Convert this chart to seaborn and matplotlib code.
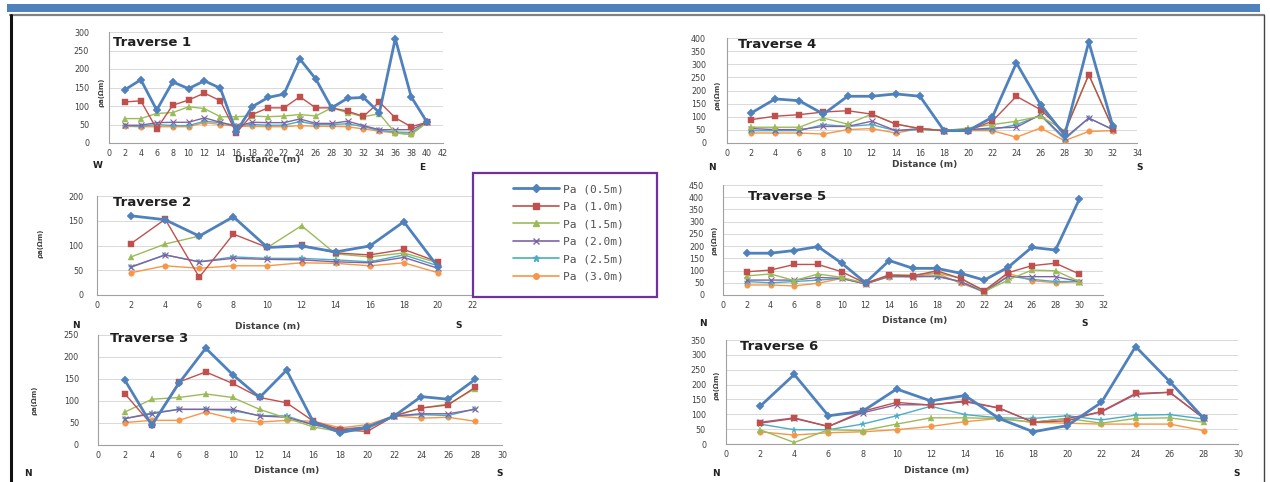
import numpy as np
import pandas as pd
import matplotlib
matplotlib.use("Agg")
import matplotlib.pyplot as plt
from matplotlib.lines import Line2D
from matplotlib.patches import Rectangle
import seaborn as sns

sns.set_theme(style="white")
plt.rcParams['font.family'] = ['DejaVu Sans']

depths = ["Pa (0.5m)", "Pa (1.0m)", "Pa (1.5m)", "Pa (2.0m)", "Pa (2.5m)", "Pa (3.0m)"]
colors = ["#4F81BD", "#C0504D", "#9BBB59", "#8064A2", "#4BACC6", "#F79646"]
markers = ["D", "s", "^", "x", "*", "o"]

# ---------------- Traverse 1 ----------------
t1_x = list(range(2, 41, 2))
t1_05 = [144, 171, 89, 165, 147, 168, 148, 30, 98, 123, 132, 227, 173, 95, 121, 123, 82, 282, 125, 56]
t1_10 = [111, 114, 38, 102, 116, 135, 114, 27, 77, 95, 95, 125, 95, 95, 86, 72, 111, 68, 44, 56]
t1_15 = [66, 66, 80, 82, 98, 93, 71, 71, 73, 71, 73, 77, 73, 95, 82, 71, 79, 27, 23, 56]
t1_20 = [48, 48, 55, 56, 56, 68, 56, 45, 56, 55, 55, 65, 53, 53, 59, 47, 36, 36, 36, 56]
t1_25 = [47, 45, 50, 47, 47, 59, 55, 47, 50, 48, 48, 58, 50, 50, 52, 44, 34, 30, 28, 56]
t1_30 = [45, 44, 44, 44, 44, 55, 50, 45, 45, 44, 44, 47, 45, 45, 44, 38, 32, 27, 23, 56]

# ---------------- Traverse 2 ----------------
t2_x = list(range(2, 21, 2))
t2_05 = [160, 152, 119, 158, 96, 99, 87, 99, 148, 57]
t2_10 = [104, 153, 36, 123, 96, 101, 85, 81, 92, 67]
t2_15 = [77, 103, 119, 158, 96, 140, 83, 77, 85, 65]
t2_20 = [57, 81, 67, 74, 72, 71, 67, 65, 76, 54]
t2_25 = [56, 81, 67, 77, 74, 74, 71, 67, 81, 59]
t2_30 = [45, 59, 54, 59, 59, 65, 64, 59, 65, 45]

# ---------------- Traverse 3 ----------------
t3_x = list(range(2, 29, 2))
t3_05 = [147, 45, 140, 220, 160, 108, 170, 52, 28, 40, 66, 110, 104, 149]
t3_10 = [116, 46, 143, 166, 140, 108, 96, 54, 34, 31, 66, 84, 91, 131]
t3_15 = [75, 104, 108, 116, 108, 81, 61, 41, 30, 37, 67, 84, 93, 128]
t3_20 = [60, 71, 81, 81, 81, 66, 63, 46, 34, 41, 66, 71, 71, 81]
t3_25 = [60, 73, 81, 81, 78, 67, 66, 46, 36, 41, 66, 69, 67, 82]
t3_30 = [51, 56, 56, 75, 60, 52, 56, 54, 39, 46, 66, 61, 63, 54]

# ---------------- Traverse 4 ----------------
t4_x = list(range(2, 33, 2))
t4_05 = [114, 168, 161, 110, 178, 178, 187, 178, 47, 47, 98, 305, 146, 30, 385, 63]
t4_10 = [89, 102, 108, 118, 123, 110, 72, 55, 47, 47, 83, 178, 127, 40, 260, 55]
t4_15 = [60, 60, 60, 95, 72, 110, 72, 55, 47, 57, 70, 83, 102, 47, 260, 55]
t4_20 = [55, 51, 51, 63, 63, 83, 47, 55, 47, 51, 57, 60, 108, 19, 95, 51]
t4_25 = [47, 47, 47, 70, 63, 70, 47, 51, 47, 51, 51, 70, 105, 13, 95, 51]
t4_30 = [38, 38, 38, 34, 51, 55, 38, 55, 47, 47, 47, 22, 57, 9, 44, 47]

# ---------------- Traverse 5 ----------------
t5_x = list(range(2, 31, 2))
t5_05 = [171, 171, 182, 198, 130, 50, 141, 109, 109, 89, 61, 113, 195, 184, 391]
t5_10 = [95, 102, 125, 125, 95, 48, 82, 78, 99, 68, 18, 91, 120, 130, 86]
t5_15 = [78, 86, 59, 86, 72, 48, 82, 82, 91, 68, 14, 61, 102, 99, 55]
t5_20 = [61, 61, 61, 72, 68, 45, 78, 75, 78, 55, 14, 75, 75, 75, 55]
t5_25 = [55, 50, 55, 61, 68, 48, 75, 75, 75, 55, 10, 78, 64, 55, 55]
t5_30 = [41, 41, 37, 48, 68, 45, 75, 75, 89, 48, 14, 89, 59, 50, 55]

# ---------------- Traverse 6 ----------------
t6_x = list(range(2, 29, 2))
t6_05 = [127, 234, 95, 110, 185, 145, 163, 86, 41, 62, 140, 328, 210, 86]
t6_10 = [70, 86, 59, 110, 140, 131, 145, 121, 73, 78, 110, 170, 174, 86]
t6_15 = [48, 5, 48, 45, 67, 88, 88, 86, 73, 86, 70, 86, 88, 73]
t6_20 = [73, 88, 59, 105, 132, 132, 142, 121, 73, 86, 108, 167, 174, 86]
t6_25 = [67, 48, 48, 67, 95, 127, 99, 88, 86, 95, 81, 97, 99, 84]
t6_30 = [41, 30, 38, 41, 48, 59, 75, 86, 73, 70, 67, 67, 67, 45]

W, H = 1270, 482
fig = plt.figure(figsize=(W / 100, H / 100), dpi=100)
fig.patch.set_facecolor("white")


def rect(x0, y0, x1, y1):
    return [x0 / W, 1 - y1 / H, (x1 - x0) / W, (y1 - y0) / H]


def fx(x):
    return x / W


def fy(y):
    return 1 - y / H


# decoration: blue band and frame
fig.patches.append(Rectangle((fx(7), fy(12)), fx(1260) - fx(7), fy(4) - fy(12),
                             transform=fig.transFigure, facecolor="#4F81BD", edgecolor="none"))
fig.add_artist(Line2D([fx(10), fx(1264)], [fy(15), fy(15)], transform=fig.transFigure,
                      color="#808080", lw=1.6))
fig.add_artist(Line2D([fx(11), fx(11)], [fy(15), fy(482)], transform=fig.transFigure,
                      color="#111111", lw=2.2))
fig.add_artist(Line2D([fx(1264), fx(1264)], [fy(15), fy(482)], transform=fig.transFigure,
                      color="#444444", lw=1.0))

panels = [
    dict(name="Traverse 1", x=t1_x, ys=[t1_05, t1_10, t1_15, t1_20, t1_25, t1_30],
         box=(109, 32, 443, 143), xmax=42, ymax=300, ypad=20,
         left="W", right="E", lpos=(98, 166), rpos=(422, 167), dpos=(268, 160),
         ylab=(101, 92), tpos=(113, 43)),
    dict(name="Traverse 4", x=t4_x, ys=[t4_05, t4_10, t4_15, t4_20, t4_25, t4_30],
         box=(727, 38, 1137, 143), xmax=34, ymax=400, ypad=21,
         left="N", right="S", lpos=(712, 167), rpos=(1140, 168), dpos=(925, 165),
         ylab=(717, 95), tpos=(738, 44)),
    dict(name="Traverse 2", x=t2_x, ys=[t2_05, t2_10, t2_15, t2_20, t2_25, t2_30],
         box=(97, 196, 472, 295), xmax=22, ymax=200, ypad=14,
         left="N", right="S", lpos=(76, 326), rpos=(459, 326), dpos=(268, 326),
         ylab=(40, 243), tpos=(113, 203)),
    dict(name="Traverse 5", x=t5_x, ys=[t5_05, t5_10, t5_15, t5_20, t5_25, t5_30],
         box=(723, 185, 1103, 295), xmax=32, ymax=450, ypad=19,
         left="N", right="S", lpos=(703, 323), rpos=(1085, 323), dpos=(915, 321),
         ylab=(714, 240), tpos=(748, 196)),
    dict(name="Traverse 3", x=t3_x, ys=[t3_05, t3_10, t3_15, t3_20, t3_25, t3_30],
         box=(98, 335, 502, 445), xmax=30, ymax=250, ypad=19,
         left="N", right="S", lpos=(28, 474), rpos=(500, 474), dpos=(287, 471),
         ylab=(34, 400), tpos=(110, 339)),
    dict(name="Traverse 6", x=t6_x, ys=[t6_05, t6_10, t6_15, t6_20, t6_25, t6_30],
         box=(726, 340, 1238, 444), xmax=30, ymax=350, ypad=20,
         left="N", right="S", lpos=(716, 474), rpos=(1237, 474), dpos=(937, 471),
         ylab=(716, 385), tpos=(740, 347)),
]

for p in panels:
    ax = fig.add_axes(rect(*p["box"]))
    rows = []
    for d, ys in zip(depths, p["ys"]):
        for xv, yv in zip(p["x"], ys):
            rows.append((xv, yv, d))
    df = pd.DataFrame(rows, columns=["distance", "rho", "depth"])
    for i, d in enumerate(depths):
        sub = df[df["depth"] == d]
        sns.lineplot(data=sub, x="distance", y="rho", ax=ax, color=colors[i],
                     marker=markers[i], markersize=(5 if markers[i] in "s*" else 4),
                     markeredgecolor=colors[i], markeredgewidth=0.8 if markers[i] == "x" else 0.3,
                     linewidth=2.0 if i == 0 else 1.0, legend=False, zorder=10 - i)
    ax.set_xlim(0, p["xmax"])
    ax.set_ylim(0, p["ymax"])
    ax.set_xticks(np.arange(0, p["xmax"] + 1, 2))
    ax.set_yticks(np.arange(0, p["ymax"] + 1, 50))
    ax.tick_params(axis="x", labelsize=5.8, colors="#404040", length=2, width=0.6, pad=2)
    ax.tick_params(axis="y", labelsize=5.8, colors="#404040", length=0, pad=p["ypad"] * 0.72)
    ax.grid(axis="y", color="#D9D9D9", linewidth=0.7)
    ax.set_axisbelow(True)
    for s in ["top", "right"]:
        ax.spines[s].set_visible(False)
    for s in ["left", "bottom"]:
        ax.spines[s].set_color("#A0A0A0")
        ax.spines[s].set_linewidth(0.8)
    ax.set_xlabel("")
    ax.set_ylabel("")
    ax.set_facecolor("none")
    fig.text(fx(p["tpos"][0]), fy(p["tpos"][1]), p["name"], fontsize=9.5, fontweight="bold",
             color="#202020", ha="left", va="center")
    fig.text(fx(p["lpos"][0]), fy(p["lpos"][1]), p["left"], fontsize=6.5, fontweight="bold",
             color="#202020", ha="center", va="center")
    fig.text(fx(p["rpos"][0]), fy(p["rpos"][1]), p["right"], fontsize=6.5, fontweight="bold",
             color="#202020", ha="center", va="center")
    fig.text(fx(p["dpos"][0]), fy(p["dpos"][1]), "Distance (m)", fontsize=6.5, fontweight="bold",
             color="#404040", ha="center", va="center")
    fig.text(fx(p["ylab"][0]), fy(p["ylab"][1]), "ρa(Ωm)", fontsize=5.0, fontweight="bold",
             color="#404040", ha="center", va="center", rotation=90)

# legend box
fig.patches.append(Rectangle((fx(473), fy(297)), fx(657) - fx(473), fy(173) - fy(297),
                             transform=fig.transFigure, facecolor="white",
                             edgecolor="#7030A0", linewidth=1.6, zorder=5))
handles = [Line2D([0], [0], color=colors[i], marker=markers[i],
                  markersize=(5 if markers[i] in "s*" else 4),
                  linewidth=2.0 if i == 0 else 1.2) for i in range(6)]
leg = fig.legend(handles, depths, loc="center", bbox_to_anchor=(fx(568), fy(233)),
                 frameon=False, prop={"family": "DejaVu Sans Mono", "size": 8.0},
                 handlelength=4.2, labelspacing=0.68, handletextpad=0.3)
for t in leg.get_texts():
    t.set_color("#505050")

fig.savefig("out.png", dpi=100)
